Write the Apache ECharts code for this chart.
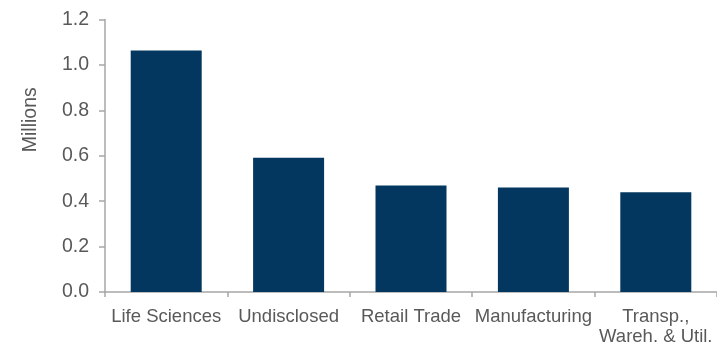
<!DOCTYPE html>
<html>
<head>
<meta charset="utf-8">
<script src="https://cdn.jsdelivr.net/npm/echarts@6/dist/echarts.min.js"></script>
<style>
html,body{margin:0;padding:0;background:#fff;}
#c{width:717px;height:347px;}
</style>
</head>
<body>
<div id="c"></div>
<script>
const categories = ["Life Sciences", "Undisclosed", "Retail Trade", "Manufacturing", "Transp.,\nWareh. & Util."];
const values = [1.063, 0.591, 0.469, 0.460, 0.439];
const yTicks = { min: 0, max: 1.2, interval: 0.2 };
const yAxisName = "Millions";

const chart = echarts.init(document.getElementById('c'), null, { renderer: 'canvas' });
const font = '"Liberation Sans", Arial, sans-serif';
chart.setOption({
  animation: false,
  grid: { left: 105, top: 19.5, width: 613, bottom: 52, containLabel: false },
  xAxis: {
    type: 'category',
    data: categories,
    axisLine: { lineStyle: { color: '#a6a6a6', width: 1.5 } },
    axisTick: { show: true, alignWithLabel: false, length: 5, lineStyle: { color: '#a6a6a6', width: 1.5 } },
    axisLabel: { color: '#595959', fontSize: 18.5, fontFamily: font, margin: 15, interval: 0, lineHeight: 20 }
  },
  yAxis: {
    type: 'value',
    min: yTicks.min, max: yTicks.max, interval: yTicks.interval,
    name: yAxisName,
    nameLocation: 'middle',
    nameRotate: 90,
    nameGap: 64,
    nameTextStyle: { color: '#595959', fontSize: 19.5, fontFamily: font, padding: [0, 0, 0, 72] },
    splitLine: { show: false },
    axisLine: { show: true, lineStyle: { color: '#a6a6a6', width: 1.5 } },
    axisTick: { show: true, length: 6, lineStyle: { color: '#a6a6a6', width: 1.5 } },
    axisLabel: { color: '#595959', fontSize: 19.5, fontFamily: font, margin: 16, formatter: v => v.toFixed(1) }
  },
  series: [{
    type: 'bar',
    data: values,
    barWidth: 71,
    itemStyle: { color: '#03375f' }
  }]
});
</script>
</body>
</html>
